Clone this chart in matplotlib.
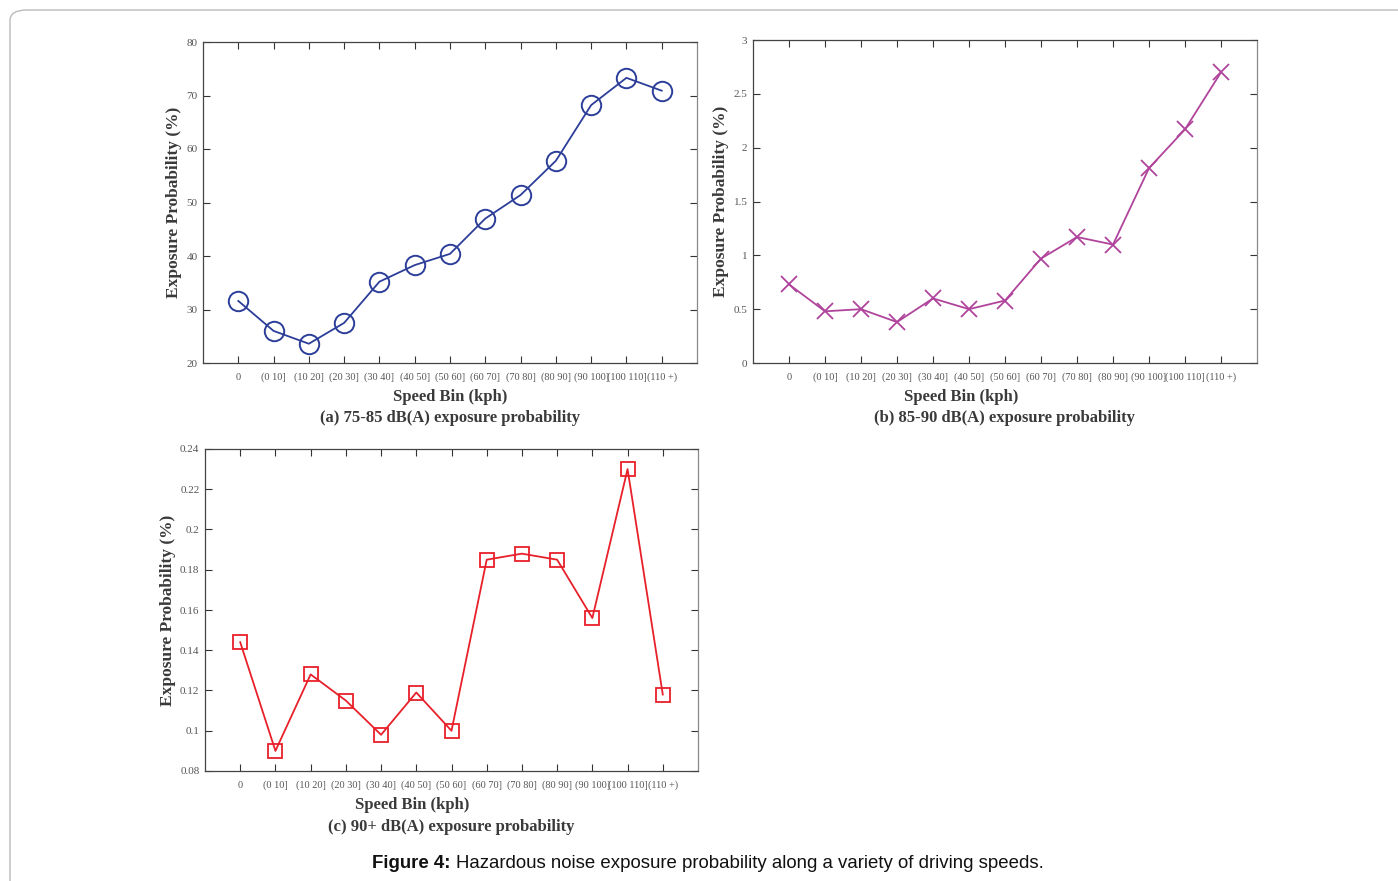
import numpy as np
import matplotlib.pyplot as plt
from matplotlib.patches import FancyBboxPatch

bins = ['0', '(0 10]', '(10 20]', '(20 30]', '(30 40]', '(40 50]', '(50 60]',
        '(60 70]', '(70 80]', '(80 90]', '(90 100]', '(100 110]', '(110 +)']
prob_75_85 = [31.6, 26.0, 23.6, 27.5, 35.2, 38.3, 40.4, 47.0, 51.4, 57.8, 68.2, 73.3, 70.9]
prob_85_90 = [0.73, 0.48, 0.50, 0.38, 0.60, 0.50, 0.58, 0.97, 1.17, 1.10, 1.81, 2.17, 2.70]
prob_90 = [0.144, 0.090, 0.128, 0.115, 0.098, 0.119, 0.100, 0.185, 0.188, 0.185, 0.156, 0.230, 0.118]

W, H = 1398, 881
fig = plt.figure(figsize=(W / 100, H / 100), dpi=100)

# rounded frame round the figure
frame = FancyBboxPatch((10 / W, -0.05), 1.2, (H - 10) / H + 0.05,
                       boxstyle="round,pad=0,rounding_size=0.012",
                       transform=fig.transFigure, fill=False,
                       edgecolor='#bbbbbb', linewidth=1.0)
fig.patches.append(frame)

serif = 'Liberation Serif'
tick_col = '#555555'
lab_col = '#3a3a3a'


def make_axes(l, t, r, b):
    return fig.add_axes([l / W, 1 - b / H, (r - l) / W, (b - t) / H])


def panel(box, y, ylim, yticks, fmt, style, xlab_x, ylab_x, title_x, xlab_y, title_y, title):
    ax = make_axes(*box)
    x = np.arange(len(bins))
    ax.plot(x, y, **style)
    ax.set_xlim(-1, 13)
    ax.set_ylim(*ylim)
    ax.set_xticks(x)
    ax.set_xticklabels(bins)
    ax.set_yticks(yticks)
    ax.set_yticklabels([fmt(v) for v in yticks])
    ax.tick_params(direction='in', length=5, width=0.8, top=True, right=True,
                   colors='#333333', labelcolor=tick_col, labelsize=8)
    ax.tick_params(axis='y', pad=4)
    ax.tick_params(axis='x', pad=7, labelsize=7.5)
    for lbl in ax.get_xticklabels() + ax.get_yticklabels():
        lbl.set_family(serif)
    for s in ax.spines.values():
        s.set_color('#444444')
        s.set_linewidth(0.9)
    ax.spines['right'].set_color('#888888')
    fig.text(xlab_x / W, 1 - xlab_y / H, 'Speed Bin (kph)', ha='center', va='center',
             family=serif, weight='bold', size=12, color=lab_col)
    fig.text(title_x / W, 1 - title_y / H, title, ha='center', va='center',
             family=serif, weight='bold', size=12, color=lab_col)
    fig.text(ylab_x / W, 1 - ((box[1] + box[3]) / 2) / H, 'Exposure Probability (%)',
             rotation=90, ha='center', va='center', family=serif, weight='bold',
             size=12.5, color=lab_col)
    return ax


def fmt_a(v):
    return '%d' % v


def fmt_g(v):
    return ('%g' % v)


panel((203, 42, 697, 363), prob_75_85, (20, 80), np.arange(20, 81, 10), fmt_a,
      dict(color='#2c3e99', lw=1.3, marker='o', ms=14, mfc='none', mew=1.4),
      450, 174, 450, 397, 418, '(a) 75-85 dB(A) exposure probability')

panel((753, 40, 1257, 363), prob_85_90, (0, 3), np.arange(0, 3.01, 0.5), fmt_g,
      dict(color='#b0449c', lw=1.3, marker='x', ms=12, mew=1.3),
      961, 721, 1004, 397, 418, '(b) 85-90 dB(A) exposure probability')

panel((205, 449, 698, 771), prob_90, (0.08, 0.24), np.arange(0.08, 0.2401, 0.02), fmt_g,
      dict(color='#e8202a', lw=1.3, marker='s', ms=10, mfc='none', mew=1.3),
      412, 168, 451, 805, 827, '(c) 90+ dB(A) exposure probability')

fig.text(372 / W, 1 - 864 / H, 'Figure 4:', ha='left', va='center',
         family='Liberation Sans', weight='bold', size=13.4, color='#111111')
fig.text(456 / W, 1 - 864 / H,
         'Hazardous noise exposure probability along a variety of driving speeds.',
         ha='left', va='center', family='Liberation Sans', size=13.4, color='#111111')

fig.savefig('out.png', dpi=100)
